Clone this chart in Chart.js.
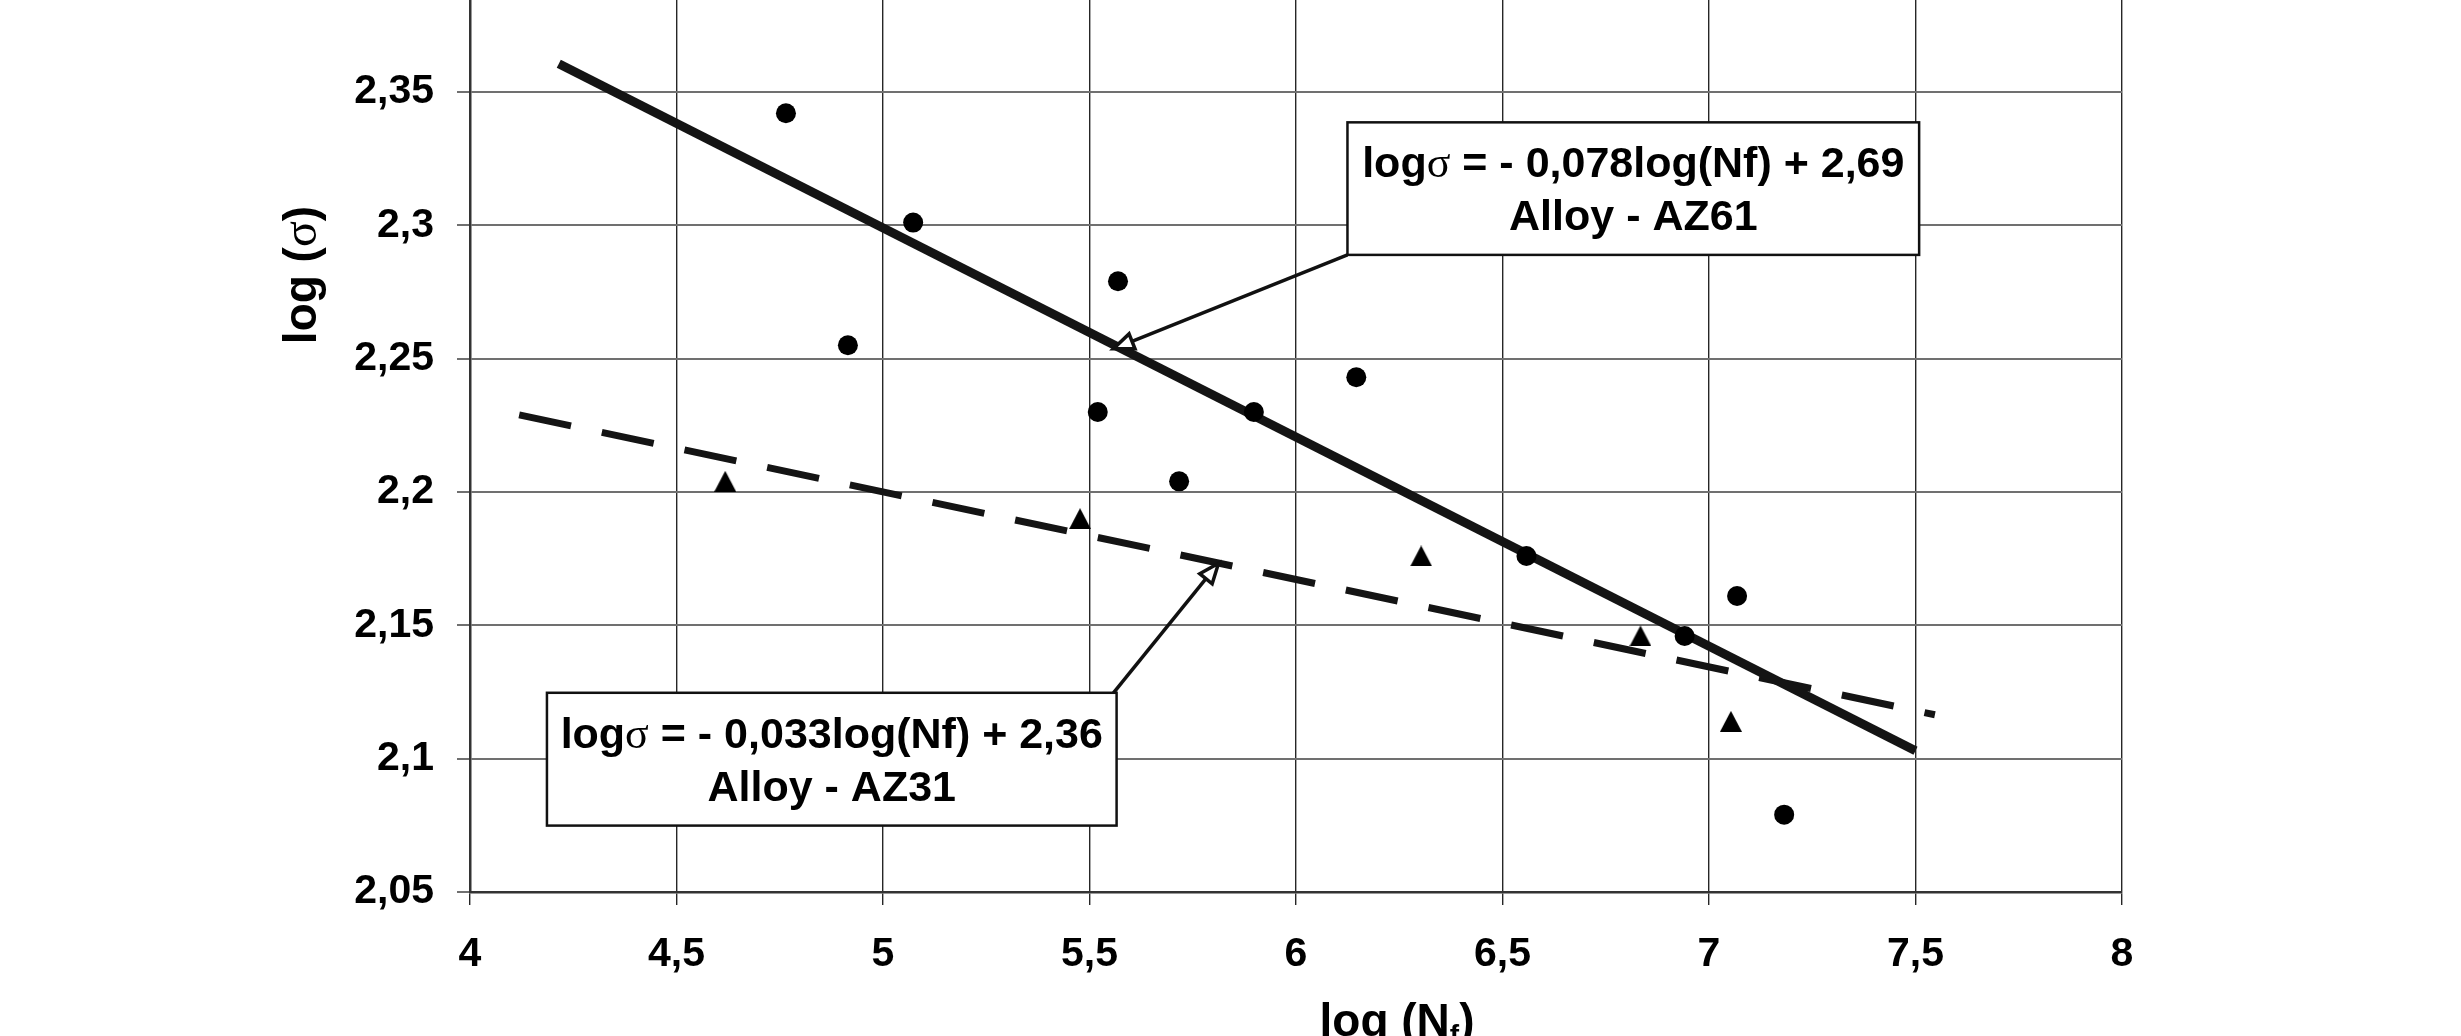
<!DOCTYPE html>
<html>
<head>
<meta charset="utf-8">
<title>log(σ) – log(Nf)</title>
<script src="https://cdn.jsdelivr.net/npm/chart.js@4.4.1/dist/chart.umd.min.js"></script>
<style>
  html, body { margin: 0; padding: 0; background: #fff; overflow: hidden; }
  body { width: 2461px; height: 1036px; position: relative; }
  /* plot runs past the top edge, so the canvas is shifted up */
  #wrap { position: absolute; left: 0; top: -89px; }
</style>
</head>
<body>
<div id="wrap"><canvas id="chart" width="2461" height="1125"></canvas></div>
<script>
/* ═══════════════════════════════════════════
   Fatigue data — log(σ) vs log(Nf)
   ═══════════════════════════════════════════ */

// ── Alloy AZ61 (circles) ──────────────────
const az61LogN = [4.765, 5.073, 4.915, 5.569, 5.520, 5.717, 5.898, 6.146, 6.558, 6.941, 7.068, 7.182];
const az61LogS = [2.342, 2.301, 2.255, 2.279, 2.230, 2.204, 2.230, 2.243, 2.176, 2.146, 2.161, 2.079];

// ── Alloy AZ31 (triangles) ────────────────
const az31LogN = [4.618, 5.477, 6.303, 6.834, 7.053];
const az31LogS = [2.204, 2.190, 2.176, 2.146, 2.114];

// ── Fitted lines: [slope, intercept] and logN span ──
const az61Fit = [-0.0784, 2.691];
const az31Fit = [-0.0328, 2.364];
const az61Span = [4.215, 7.5];
const az31Span = [4.119, 7.547];

// ── Axes ──────────────────────────────────
const xLimits = [4, 8];
const xStep = 0.5;
const yLimits = [2.05, 2.4];
const yStep = 0.05;

const SANS = "'Liberation Sans', Arial, sans-serif";
const SERIF = "'Liberation Serif', 'Times New Roman', serif";
const INK = '#111';

const comma = v => String(Math.round(v * 100) / 100).replace('.', ',');
const toPoints = (xs, ys) => xs.map((x, i) => ({ x, y: ys[i] }));
const fitPoints = (fit, span) => span.map(x => ({ x, y: fit[0] * x + fit[1] }));
const eqText = fit => ' = - ' + (-fit[0]).toFixed(3).replace('.', ',') +
  'log(Nf) + ' + fit[1].toFixed(2).replace('.', ',');

// solid triangle marker, a bit taller than equilateral
function triangleMarker(w, h) {
  const c = document.createElement('canvas');
  c.width = w; c.height = h;
  const g = c.getContext('2d');
  g.fillStyle = '#000';
  g.beginPath();
  g.moveTo(w / 2, 0);
  g.lineTo(w, h);
  g.lineTo(0, h);
  g.closePath();
  g.fill();
  return c;
}

// text made of runs in different fonts, centred on cx
function drawRuns(ctx, runs, cx, baseY) {
  let total = 0;
  runs.forEach(r => { ctx.font = r.font; r.w = ctx.measureText(r.text).width; total += r.w; });
  let x = cx - total / 2;
  ctx.textAlign = 'left';
  ctx.textBaseline = 'alphabetic';
  ctx.fillStyle = '#000';
  runs.forEach(r => {
    ctx.font = r.font;
    ctx.fillText(r.text, x, baseY + (r.dy || 0));
    x += r.w;
  });
}

// ── Callout boxes with arrows ─────────────
const callouts = [
  {
    box: { x0: 6.1246, x1: 7.5088, y0: 2.3386, y1: 2.2889 },
    from: { x: 6.1246, y: 2.2889 },
    to: { x: 5.558, y: 2.2537 },
    lines: [
      [{ text: 'log', font: `bold 43px ${SANS}` },
       { text: 'σ', font: `44px ${SERIF}` },
       { text: eqText(az61Fit), font: `bold 43px ${SANS}` }],
      [{ text: 'Alloy - AZ61', font: `bold 43px ${SANS}` }],
    ],
  },
  {
    box: { x0: 4.1863, x1: 5.5656, y0: 2.1247, y1: 2.0749 },
    from: { x: 5.558, y: 2.1247 },
    to: { x: 5.8125, y: 2.1733 },
    lines: [
      [{ text: 'log', font: `bold 43px ${SANS}` },
       { text: 'σ', font: `44px ${SERIF}` },
       { text: eqText(az31Fit), font: `bold 43px ${SANS}` }],
      [{ text: 'Alloy - AZ31', font: `bold 43px ${SANS}` }],
    ],
  },
];

function drawArrow(ctx, x0, y0, x1, y1) {
  const a = Math.atan2(y1 - y0, x1 - x0);
  const len = 20, half = 8;
  const bx = x1 - Math.cos(a) * len, by = y1 - Math.sin(a) * len;
  ctx.strokeStyle = INK;
  ctx.lineWidth = 3.5;
  ctx.beginPath();
  ctx.moveTo(x0, y0);
  ctx.lineTo(bx, by);
  ctx.stroke();
  // open head
  ctx.beginPath();
  ctx.moveTo(x1, y1);
  ctx.lineTo(bx + Math.sin(a) * half, by - Math.cos(a) * half);
  ctx.lineTo(bx - Math.sin(a) * half, by + Math.cos(a) * half);
  ctx.closePath();
  ctx.fillStyle = '#fff';
  ctx.fill();
  ctx.lineWidth = 3.5;
  ctx.lineJoin = 'miter';
  ctx.stroke();
}

const calloutPlugin = {
  id: 'callouts',
  afterDatasetsDraw(chart) {
    const { ctx, scales: { x, y } } = chart;
    ctx.save();
    callouts.forEach(c => {
      const L = x.getPixelForValue(c.box.x0), R = x.getPixelForValue(c.box.x1);
      const T = y.getPixelForValue(c.box.y0), B = y.getPixelForValue(c.box.y1);
      drawArrow(ctx, x.getPixelForValue(c.from.x), y.getPixelForValue(c.from.y),
        x.getPixelForValue(c.to.x), y.getPixelForValue(c.to.y));
      ctx.fillStyle = '#fff';
      ctx.fillRect(L, T, R - L, B - T);
      ctx.strokeStyle = INK;
      ctx.lineWidth = 2.5;
      ctx.strokeRect(L, T, R - L, B - T);
      drawRuns(ctx, c.lines[0], (L + R) / 2, T + 55);
      drawRuns(ctx, c.lines[1], (L + R) / 2, T + 108);
    });
    ctx.restore();
  },
  afterDraw(chart) {
    const { ctx, chartArea } = chart;
    ctx.save();
    // y title, rotated
    ctx.translate(chartArea.left - 154, chartArea.bottom - 617);
    ctx.rotate(-Math.PI / 2);
    drawRuns(ctx, [
      { text: 'log (', font: `bold 46px ${SANS}` },
      { text: 'σ', font: `48px ${SERIF}` },
      { text: ')', font: `bold 46px ${SANS}` },
    ], 0, 0);
    ctx.restore();
    ctx.save();
    // x title with subscript f
    drawRuns(ctx, [
      { text: 'log (N', font: `bold 46px ${SANS}` },
      { text: 'f', font: `bold 28px ${SANS}`, dy: 8 },
      { text: ')', font: `bold 46px ${SANS}` },
    ], chartArea.left + 927, chartArea.bottom + 144);
    ctx.restore();
  },
};

// ── Chart ─────────────────────────────────
const tickFont = { family: SANS, size: 41, weight: 'bold' };

new Chart(document.getElementById('chart'), {
  type: 'scatter',
  data: {
    datasets: [
      {
        label: 'AZ61',
        data: toPoints(az61LogN, az61LogS),
        pointStyle: 'circle',
        pointRadius: 10,
        backgroundColor: '#000',
        borderWidth: 0,
      },
      {
        label: 'AZ31',
        data: toPoints(az31LogN, az31LogS),
        pointStyle: triangleMarker(22, 21),
        pointRadius: 10,
      },
      {
        label: 'AZ61 fit',
        data: fitPoints(az61Fit, az61Span),
        showLine: true,
        pointRadius: 0,
        borderColor: '#141414',
        borderWidth: 9,
      },
      {
        label: 'AZ31 fit',
        data: fitPoints(az31Fit, az31Span),
        showLine: true,
        pointRadius: 0,
        borderColor: '#141414',
        borderWidth: 7,
        borderDash: [53, 31.5],
      },
    ],
  },
  options: {
    responsive: false,
    animation: false,
    events: [],
    layout: { padding: { top: 40, right: 339, bottom: 0, left: 0 } },
    plugins: {
      legend: { display: false },
      tooltip: { enabled: false },
    },
    scales: {
      x: {
        type: 'linear',
        min: xLimits[0],
        max: xLimits[1],
        afterFit: s => { s.height = 144; },
        ticks: {
          stepSize: xStep,
          padding: 25,
          maxRotation: 0,
          color: '#000',
          font: tickFont,
          callback: v => comma(v),
        },
        grid: { color: '#262626', lineWidth: 1.4, tickLength: 13 },
        border: { color: '#333', width: 2.5 },
      },
      y: {
        type: 'linear',
        min: yLimits[0],
        max: yLimits[1],
        afterFit: s => { s.width = 470; },
        ticks: {
          stepSize: yStep,
          padding: 23,
          color: '#000',
          font: tickFont,
          callback: v => comma(v),
        },
        grid: { color: '#707070', lineWidth: 2, tickLength: 13 },
        border: { color: '#333', width: 2.5 },
      },
    },
  },
  plugins: [calloutPlugin],
});
</script>
</body>
</html>
